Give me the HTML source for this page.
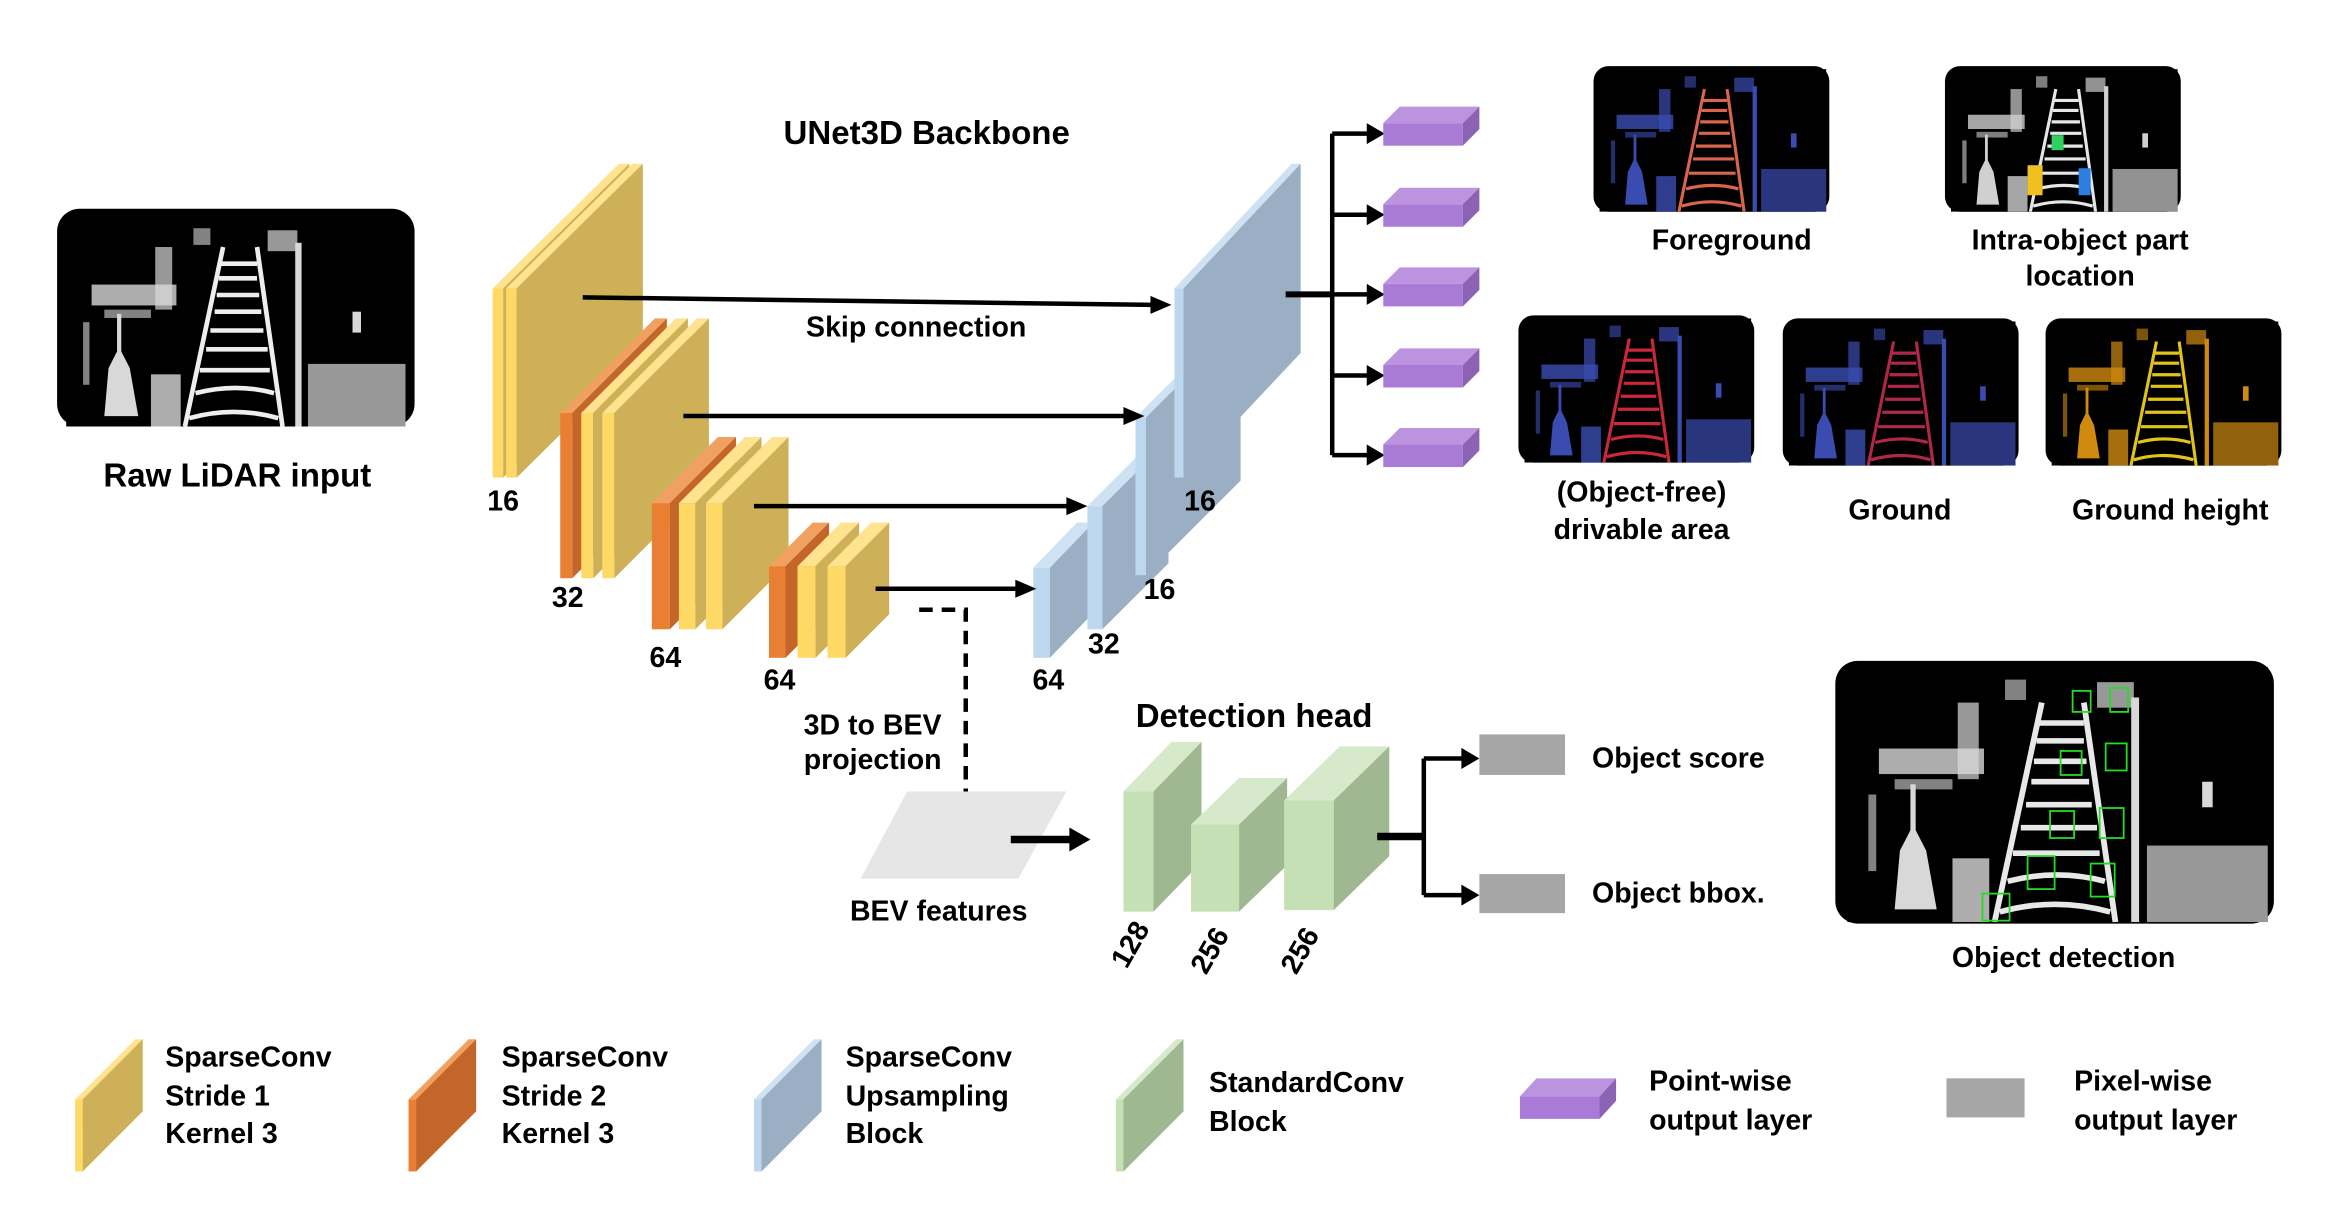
<!DOCTYPE html>
<html><head><meta charset="utf-8"><style>
html,body{margin:0;padding:0;background:#fff;width:2343px;height:1206px;overflow:hidden}
text{font-family:"Liberation Sans",Arial,sans-serif;font-weight:bold;fill:#000}
</style></head><body>
<svg width="2343" height="1206" viewBox="0 0 1560 803" xmlns="http://www.w3.org/2000/svg">
<defs>
<symbol id="scene" viewBox="0 0 160 100" preserveAspectRatio="none">
<rect width="160" height="100" fill="#000"/>
<g style="fill:var(--a);stroke:var(--a)" stroke-width="0">
<rect x="12" y="32" width="40" height="10" opacity=".8"/>
<rect x="18" y="44" width="22" height="4" opacity=".6"/>
<rect x="42" y="14" width="8" height="30" opacity=".7"/>
<rect x="8" y="50" width="3" height="30" opacity=".6"/>
<rect x="24" y="46" width="2" height="25"/>
<polygon points="18,95 20,72 25,62 30,72 34,95"/>
<rect x="108" y="12" width="3" height="88"/>
<rect x="95" y="6" width="14" height="10" opacity=".7"/>
<rect x="114" y="70" width="46" height="30" opacity=".7"/>
<rect x="135" y="45" width="4" height="10"/>
<rect x="40" y="75" width="14" height="25" opacity=".8"/>
<rect x="60" y="5" width="8" height="8" opacity=".6"/>
</g>
<g style="stroke:var(--b)" fill="none" stroke-width="2.2">
<line x1="56" y1="100" x2="74" y2="14"/>
<line x1="102" y1="100" x2="90" y2="14"/>
<path d="M58 96 Q79 90 100 96 M61 84 Q80 79 98 84 M63 73 H96 M66 63 H95 M68 54 H93 M70 45 H92 M71 37 H91 M72 29 H90 M73 22 H90"/>
</g>
</symbol>
</defs>

<rect x="38" y="139" width="238" height="145" rx="15" fill="#000"/>
<use href="#scene" x="44" y="145" width="226" height="139" style="--a:#d8d8d8;--b:#eeeeee"/>
<text x="158" y="324" font-size="22" text-anchor="middle">Raw LiDAR input</text>

<text x="617" y="96" font-size="22" text-anchor="middle">UNet3D Backbone</text>

<rect x="328" y="192" width="7" height="126" fill="#FFD966"/><polygon points="328,192 335,192 419,109 412,109" fill="#FFE38F"/><polygon points="335,192 419,109 419,235 335,318" fill="#CDB057"/>
<rect x="337" y="192" width="7" height="126" fill="#FFD966"/><polygon points="337,192 344,192 428,109 421,109" fill="#FFE38F"/><polygon points="344,192 428,109 428,235 344,318" fill="#CDB057"/>
<rect x="373" y="275" width="8" height="110" fill="#E97F32"/><polygon points="373,275 381,275 444,212 436,212" fill="#F0A060"/><polygon points="381,275 444,212 444,322 381,385" fill="#C4652A"/>
<rect x="387" y="275" width="8" height="110" fill="#FFD966"/><polygon points="387,275 395,275 458,212 450,212" fill="#FFE38F"/><polygon points="395,275 458,212 458,322 395,385" fill="#CDB057"/>
<rect x="401" y="275" width="8" height="110" fill="#FFD966"/><polygon points="401,275 409,275 472,212 464,212" fill="#FFE38F"/><polygon points="409,275 472,212 472,322 409,385" fill="#CDB057"/>
<rect x="434" y="335" width="12" height="84" fill="#E97F32"/><polygon points="434,335 446,335 490,291 478,291" fill="#F0A060"/><polygon points="446,335 490,291 490,375 446,419" fill="#C4652A"/>
<rect x="452" y="335" width="11" height="84" fill="#FFD966"/><polygon points="452,335 463,335 507,291 496,291" fill="#FFE38F"/><polygon points="463,335 507,291 507,375 463,419" fill="#CDB057"/>
<rect x="470" y="335" width="11" height="84" fill="#FFD966"/><polygon points="470,335 481,335 525,291 514,291" fill="#FFE38F"/><polygon points="481,335 525,291 525,375 481,419" fill="#CDB057"/>
<rect x="512" y="377" width="11" height="61" fill="#E97F32"/><polygon points="512,377 523,377 552,348 541,348" fill="#F0A060"/><polygon points="523,377 552,348 552,409 523,438" fill="#C4652A"/>
<rect x="531" y="377" width="12" height="61" fill="#FFD966"/><polygon points="531,377 543,377 572,348 560,348" fill="#FFE38F"/><polygon points="543,377 572,348 572,409 543,438" fill="#CDB057"/>
<rect x="551" y="377" width="12" height="61" fill="#FFD966"/><polygon points="551,377 563,377 592,348 580,348" fill="#FFE38F"/><polygon points="563,377 592,348 592,409 563,438" fill="#CDB057"/>

<!-- blue decoder: back to front -->
<rect x="688" y="378" width="11" height="60" fill="#BDD7EE"/><polygon points="688,378 699,378 728,348 717,348" fill="#CFE2F3"/><polygon points="699,378 728,348 728,408 699,438" fill="#9BAFC4"/>
<rect x="724" y="337" width="10" height="82" fill="#BDD7EE"/><polygon points="724,337 734,337 778,293 768,293" fill="#CFE2F3"/><polygon points="734,337 778,293 778,375 734,419" fill="#9BAFC4"/>
<rect x="756" y="278" width="7" height="105" fill="#BDD7EE"/><polygon points="756,278 763,278 826,215 819,215" fill="#CFE2F3"/><polygon points="763,278 826,215 826,320 763,383" fill="#9BAFC4"/>
<rect x="782" y="192" width="6" height="126" fill="#BDD7EE"/><polygon points="782,192 788,192 866,109 860,109" fill="#CFE2F3"/><polygon points="788,192 866,109 866,235 788,318" fill="#9BAFC4"/>

<g font-size="19" text-anchor="middle">
<text x="335" y="340">16</text><text x="378" y="404">32</text><text x="443" y="444">64</text><text x="519" y="459">64</text>
<text x="698" y="459">64</text><text x="735" y="435">32</text><text x="772" y="399">16</text><text x="799" y="340">16</text>
</g>

<g stroke="#000" stroke-width="3">
<line x1="388" y1="198" x2="768" y2="203"/>
<line x1="455" y1="277" x2="750" y2="277"/>
<line x1="502" y1="337" x2="712" y2="337"/>
<line x1="583" y1="392" x2="678" y2="392"/>
</g>
<g fill="#000">
<polygon points="766,197 780,203 766,209"/>
<polygon points="748,271 762,277 748,283"/>
<polygon points="710,331 724,337 710,343"/>
<polygon points="676,386 690,392 676,398"/>
</g>
<text x="610" y="224" font-size="19" text-anchor="middle">Skip connection</text>

<path d="M612 406 H643 V550" fill="none" stroke="#000" stroke-width="3" stroke-dasharray="9,6"/>
<polygon points="637,548 643,562 649,548" fill="#000"/>
<text x="581" y="489" font-size="19" text-anchor="middle">3D to BEV</text>
<text x="581" y="512" font-size="19" text-anchor="middle">projection</text>

<polygon points="604,527 710,527 678,585 573,585" fill="#E6E6E6"/>
<text x="625" y="613" font-size="19" text-anchor="middle">BEV features</text>
<line x1="673" y1="559" x2="714" y2="559" stroke="#000" stroke-width="5"/>
<polygon points="712,551 726,559 712,567" fill="#000"/>

<text x="835" y="484" font-size="22" text-anchor="middle">Detection head</text>
<rect x="748" y="527" width="20" height="80" fill="#C5E0B4"/><polygon points="748,527 768,527 800,494 780,494" fill="#D6EACB"/><polygon points="768,527 800,494 800,574 768,607" fill="#A0B891"/>
<rect x="793" y="549" width="32" height="58" fill="#C5E0B4"/><polygon points="793,549 825,549 857,518 825,518" fill="#D6EACB"/><polygon points="825,549 857,518 857,576 825,607" fill="#A0B891"/>
<rect x="855" y="533" width="33" height="73" fill="#C5E0B4"/><polygon points="855,533 888,533 925,497 892,497" fill="#D6EACB"/><polygon points="888,533 925,497 925,570 888,606" fill="#A0B891"/>
<g font-size="19" text-anchor="middle">
<text transform="translate(758,632) rotate(-60)">128</text>
<text transform="translate(811,636) rotate(-60)">256</text>
<text transform="translate(871,636) rotate(-60)">256</text>
</g>

<path d="M917 557 H948 M948 505 V596 M948 505 H975 M948 596 H975" fill="none" stroke="#000" stroke-width="3"/>
<line x1="917" y1="557" x2="948" y2="557" stroke="#000" stroke-width="5"/>
<polygon points="973,498 985,505 973,512" fill="#000"/>
<polygon points="973,589 985,596 973,603" fill="#000"/>
<rect x="985" y="489" width="57" height="27" fill="#A6A6A6"/>
<rect x="985" y="582" width="57" height="26" fill="#A6A6A6"/>
<text x="1060" y="511" font-size="19">Object score</text>
<text x="1060" y="601" font-size="19">Object bbox.</text>

<rect x="1222" y="440" width="292" height="175" rx="15" fill="#000"/>
<use href="#scene" x="1230" y="444" width="280" height="170" style="--a:#d8d8d8;--b:#e8e8e8"/>
<g fill="none" stroke="#22dd22" stroke-width="1.2">
<rect x="1380" y="460" width="12" height="14"/><rect x="1405" y="458" width="12" height="16"/>
<rect x="1372" y="500" width="14" height="16"/><rect x="1402" y="495" width="14" height="18"/>
<rect x="1365" y="540" width="16" height="18"/><rect x="1398" y="538" width="16" height="20"/>
<rect x="1350" y="570" width="18" height="22"/><rect x="1392" y="575" width="16" height="22"/>
<rect x="1320" y="595" width="18" height="18"/>
</g>
<text x="1374" y="644" font-size="19" text-anchor="middle">Object detection</text>

<line x1="856" y1="196" x2="887" y2="196" stroke="#000" stroke-width="4"/>
<path d="M887 89 V303 M887 89 H912 M887 143 H912 M887 196 H912 M887 250 H912 M887 303 H912" fill="none" stroke="#000" stroke-width="3"/>
<g fill="#000">
<polygon points="910,82 922,89 910,96"/><polygon points="910,136 922,143 910,150"/><polygon points="910,189 922,196 910,203"/><polygon points="910,243 922,250 910,257"/><polygon points="910,296 922,303 910,310"/>
</g>
<g>
<rect x="921" y="82" width="53" height="15" fill="#A97BD6"/><polygon points="921,82 974,82 985,71 932,71" fill="#BC93DE"/><polygon points="974,82 985,71 985,86 974,97" fill="#8C62B3"/>
<rect x="921" y="136" width="53" height="15" fill="#A97BD6"/><polygon points="921,136 974,136 985,125 932,125" fill="#BC93DE"/><polygon points="974,136 985,125 985,140 974,151" fill="#8C62B3"/>
<rect x="921" y="189" width="53" height="15" fill="#A97BD6"/><polygon points="921,189 974,189 985,178 932,178" fill="#BC93DE"/><polygon points="974,189 985,178 985,193 974,204" fill="#8C62B3"/>
<rect x="921" y="243" width="53" height="15" fill="#A97BD6"/><polygon points="921,243 974,243 985,232 932,232" fill="#BC93DE"/><polygon points="974,243 985,232 985,247 974,258" fill="#8C62B3"/>
<rect x="921" y="296" width="53" height="15" fill="#A97BD6"/><polygon points="921,296 974,296 985,285 932,285" fill="#BC93DE"/><polygon points="974,296 985,285 985,300 974,311" fill="#8C62B3"/>
</g>

<rect x="1061" y="44" width="157" height="97" rx="10" fill="#000"/>
<use href="#scene" x="1065" y="46" width="151" height="95" style="--a:#3a4cb0;--b:#d8654c"/>
<rect x="1295" y="44" width="157" height="97" rx="10" fill="#000"/>
<use href="#scene" x="1299" y="46" width="151" height="95" style="--a:#d0d0d0;--b:#e6e6e6"/>
<rect x="1350" y="110" width="10" height="20" fill="#f0c020"/><rect x="1384" y="112" width="8" height="18" fill="#2a7fe0"/><rect x="1366" y="90" width="8" height="10" fill="#30d060"/>
<rect x="1011" y="210" width="157" height="98" rx="10" fill="#000"/>
<use href="#scene" x="1015" y="212" width="151" height="96" style="--a:#3a4cb0;--b:#c8283a"/>
<rect x="1187" y="212" width="157" height="98" rx="10" fill="#000"/>
<use href="#scene" x="1191" y="214" width="151" height="96" style="--a:#3a4cb0;--b:#b02848"/>
<rect x="1362" y="212" width="157" height="98" rx="10" fill="#000"/>
<use href="#scene" x="1366" y="214" width="151" height="96" style="--a:#d08a10;--b:#e2c418"/>

<g font-size="19" text-anchor="middle">
<text x="1153" y="166">Foreground</text>
<text x="1385" y="166">Intra-object part</text>
<text x="1385" y="190">location</text>
<text x="1093" y="334">(Object-free)</text>
<text x="1093" y="359">drivable area</text>
<text x="1265" y="346">Ground</text>
<text x="1445" y="346">Ground height</text>
</g>

<rect x="50" y="732" width="5" height="48" fill="#FFD966"/><polygon points="50,732 55,732 95,692 90,692" fill="#FFE38F"/><polygon points="55,732 95,692 95,740 55,780" fill="#CDB057"/>
<rect x="272" y="732" width="5" height="48" fill="#E97F32"/><polygon points="272,732 277,732 317,692 312,692" fill="#F0A060"/><polygon points="277,732 317,692 317,740 277,780" fill="#C4652A"/>
<rect x="502" y="732" width="5" height="48" fill="#BDD7EE"/><polygon points="502,732 507,732 547,692 542,692" fill="#CFE2F3"/><polygon points="507,732 547,692 547,740 507,780" fill="#9BAFC4"/>
<rect x="743" y="732" width="5" height="48" fill="#C5E0B4"/><polygon points="743,732 748,732 788,692 783,692" fill="#D6EACB"/><polygon points="748,732 788,692 788,740 748,780" fill="#A0B891"/>
<rect x="1012" y="730" width="53" height="15" fill="#A97BD6"/><polygon points="1012,730 1065,730 1076,718 1023,718" fill="#BC93DE"/><polygon points="1065,730 1076,718 1076,733 1065,745" fill="#8C62B3"/>
<rect x="1296" y="718" width="52" height="26" fill="#A6A6A6"/>
<g font-size="19">
<text x="110" y="710">SparseConv</text><text x="110" y="736">Stride 1</text><text x="110" y="761">Kernel 3</text>
<text x="334" y="710">SparseConv</text><text x="334" y="736">Stride 2</text><text x="334" y="761">Kernel 3</text>
<text x="563" y="710">SparseConv</text><text x="563" y="736">Upsampling</text><text x="563" y="761">Block</text>
<text x="805" y="727">StandardConv</text><text x="805" y="753">Block</text>
<text x="1098" y="726">Point-wise</text><text x="1098" y="752">output layer</text>
<text x="1381" y="726">Pixel-wise</text><text x="1381" y="752">output layer</text>
</g>
</svg>
</body></html>
